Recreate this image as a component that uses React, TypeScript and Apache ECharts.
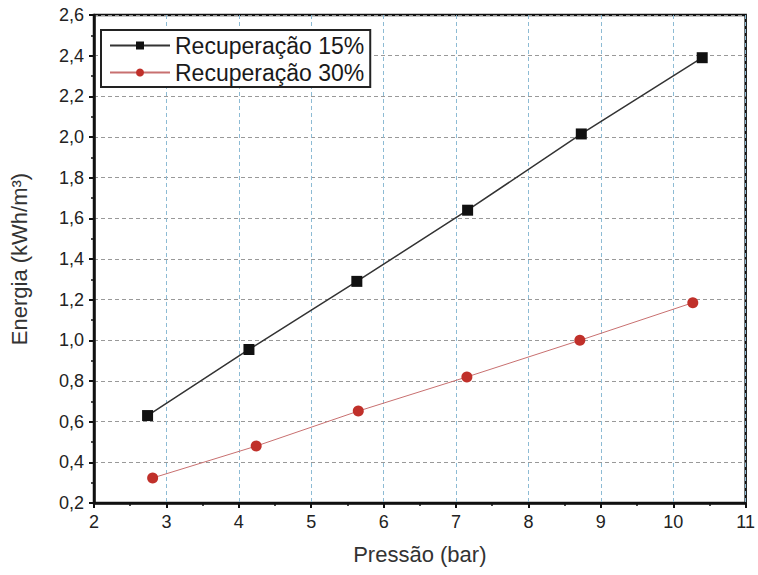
import React, { useEffect, useRef } from "react";
import * as echarts from "echarts";

const pressure15 = [2.74, 4.14, 5.63, 7.16, 8.73, 10.4];
const energy15 = [0.63, 0.955, 1.29, 1.64, 2.015, 2.39];
const pressure30 = [2.81, 4.24, 5.65, 7.15, 8.71, 10.27];
const energy30 = [0.323, 0.48, 0.652, 0.82, 1.0, 1.185];
const seriesNames = ["Recuperação 15%", "Recuperação 30%"];
const xTitle = "Pressão (bar)";
const yTitle = "Energia (kWh/m³)";

export default function App() {
  const ref = useRef<HTMLDivElement>(null);
  useEffect(() => {
    const chart = echarts.init(ref.current!, null, { renderer: "svg" });
    const font = "Liberation Sans, Arial, sans-serif";
    chart.setOption({
      animation: false,
      backgroundColor: "#fff",
      textStyle: { fontFamily: font },
      grid: { left: 92, right: 8, top: 15, bottom: 72, show: true, borderColor: "#111", borderWidth: 2.5, backgroundColor: "transparent" },
      legend: {
        left: 101, top: 30, orient: "vertical",
        borderColor: "#222", borderWidth: 2, padding: [4, 6, 3, 8],
        itemWidth: 60, itemHeight: 10, itemGap: 4,
        backgroundColor: "#fff",
        textStyle: { fontSize: 23, fontFamily: font, color: "#1a1a1a" },
        data: seriesNames,
      },
      xAxis: {
        type: "value", min: 2, max: 11, interval: 1,
        name: xTitle, nameLocation: "middle", nameGap: 40,
        nameTextStyle: { fontSize: 22, color: "#333", fontFamily: font },
        axisLine: { onZero: false, lineStyle: { color: "#111", width: 2.5 } },
        axisTick: { show: true, length: 5, lineStyle: { color: "#111", width: 2 } },
        minorTick: { show: true, splitNumber: 2, length: 3, lineStyle: { color: "#111", width: 1.5 } },
        axisLabel: { fontSize: 18, color: "#222", margin: 10, fontFamily: font },
        splitLine: { show: true, lineStyle: { color: "#8dbbd4", type: [4, 3], width: 1 } },
      },
      yAxis: {
        type: "value", min: 0.2, max: 2.6, interval: 0.2,
        name: yTitle, nameLocation: "middle", nameGap: 64,
        nameTextStyle: { fontSize: 22, color: "#333", fontFamily: font },
        axisLine: { onZero: false, lineStyle: { color: "#111", width: 2.5 } },
        axisTick: { show: true, length: 5, lineStyle: { color: "#111", width: 2 } },
        minorTick: { show: true, splitNumber: 2, length: 3, lineStyle: { color: "#111", width: 1.5 } },
        axisLabel: { fontSize: 18, color: "#222", margin: 10, fontFamily: font, formatter: (v: number) => v.toFixed(1).replace(".", ",") },
        splitLine: { show: true, lineStyle: { color: "#999", type: [4, 3], width: 1 } },
      },
      series: [
        {
          name: seriesNames[0], type: "line",
          data: pressure15.map((x, i) => [x, energy15[i]]),
          symbol: "rect", symbolSize: 11,
          lineStyle: { color: "#333", width: 1.5 },
          itemStyle: { color: "#111" },
        },
        {
          name: seriesNames[1], type: "line",
          data: pressure30.map((x, i) => [x, energy30[i]]),
          symbol: "circle", symbolSize: 11,
          lineStyle: { color: "#c87070", width: 1 },
          itemStyle: { color: "#c0302a" },
        },
      ],
    });
    return () => chart.dispose();
  }, []);
  return <div ref={ref} style={{ width: 758, height: 575, position: "absolute", left: 0, top: 0 }} />;
}
